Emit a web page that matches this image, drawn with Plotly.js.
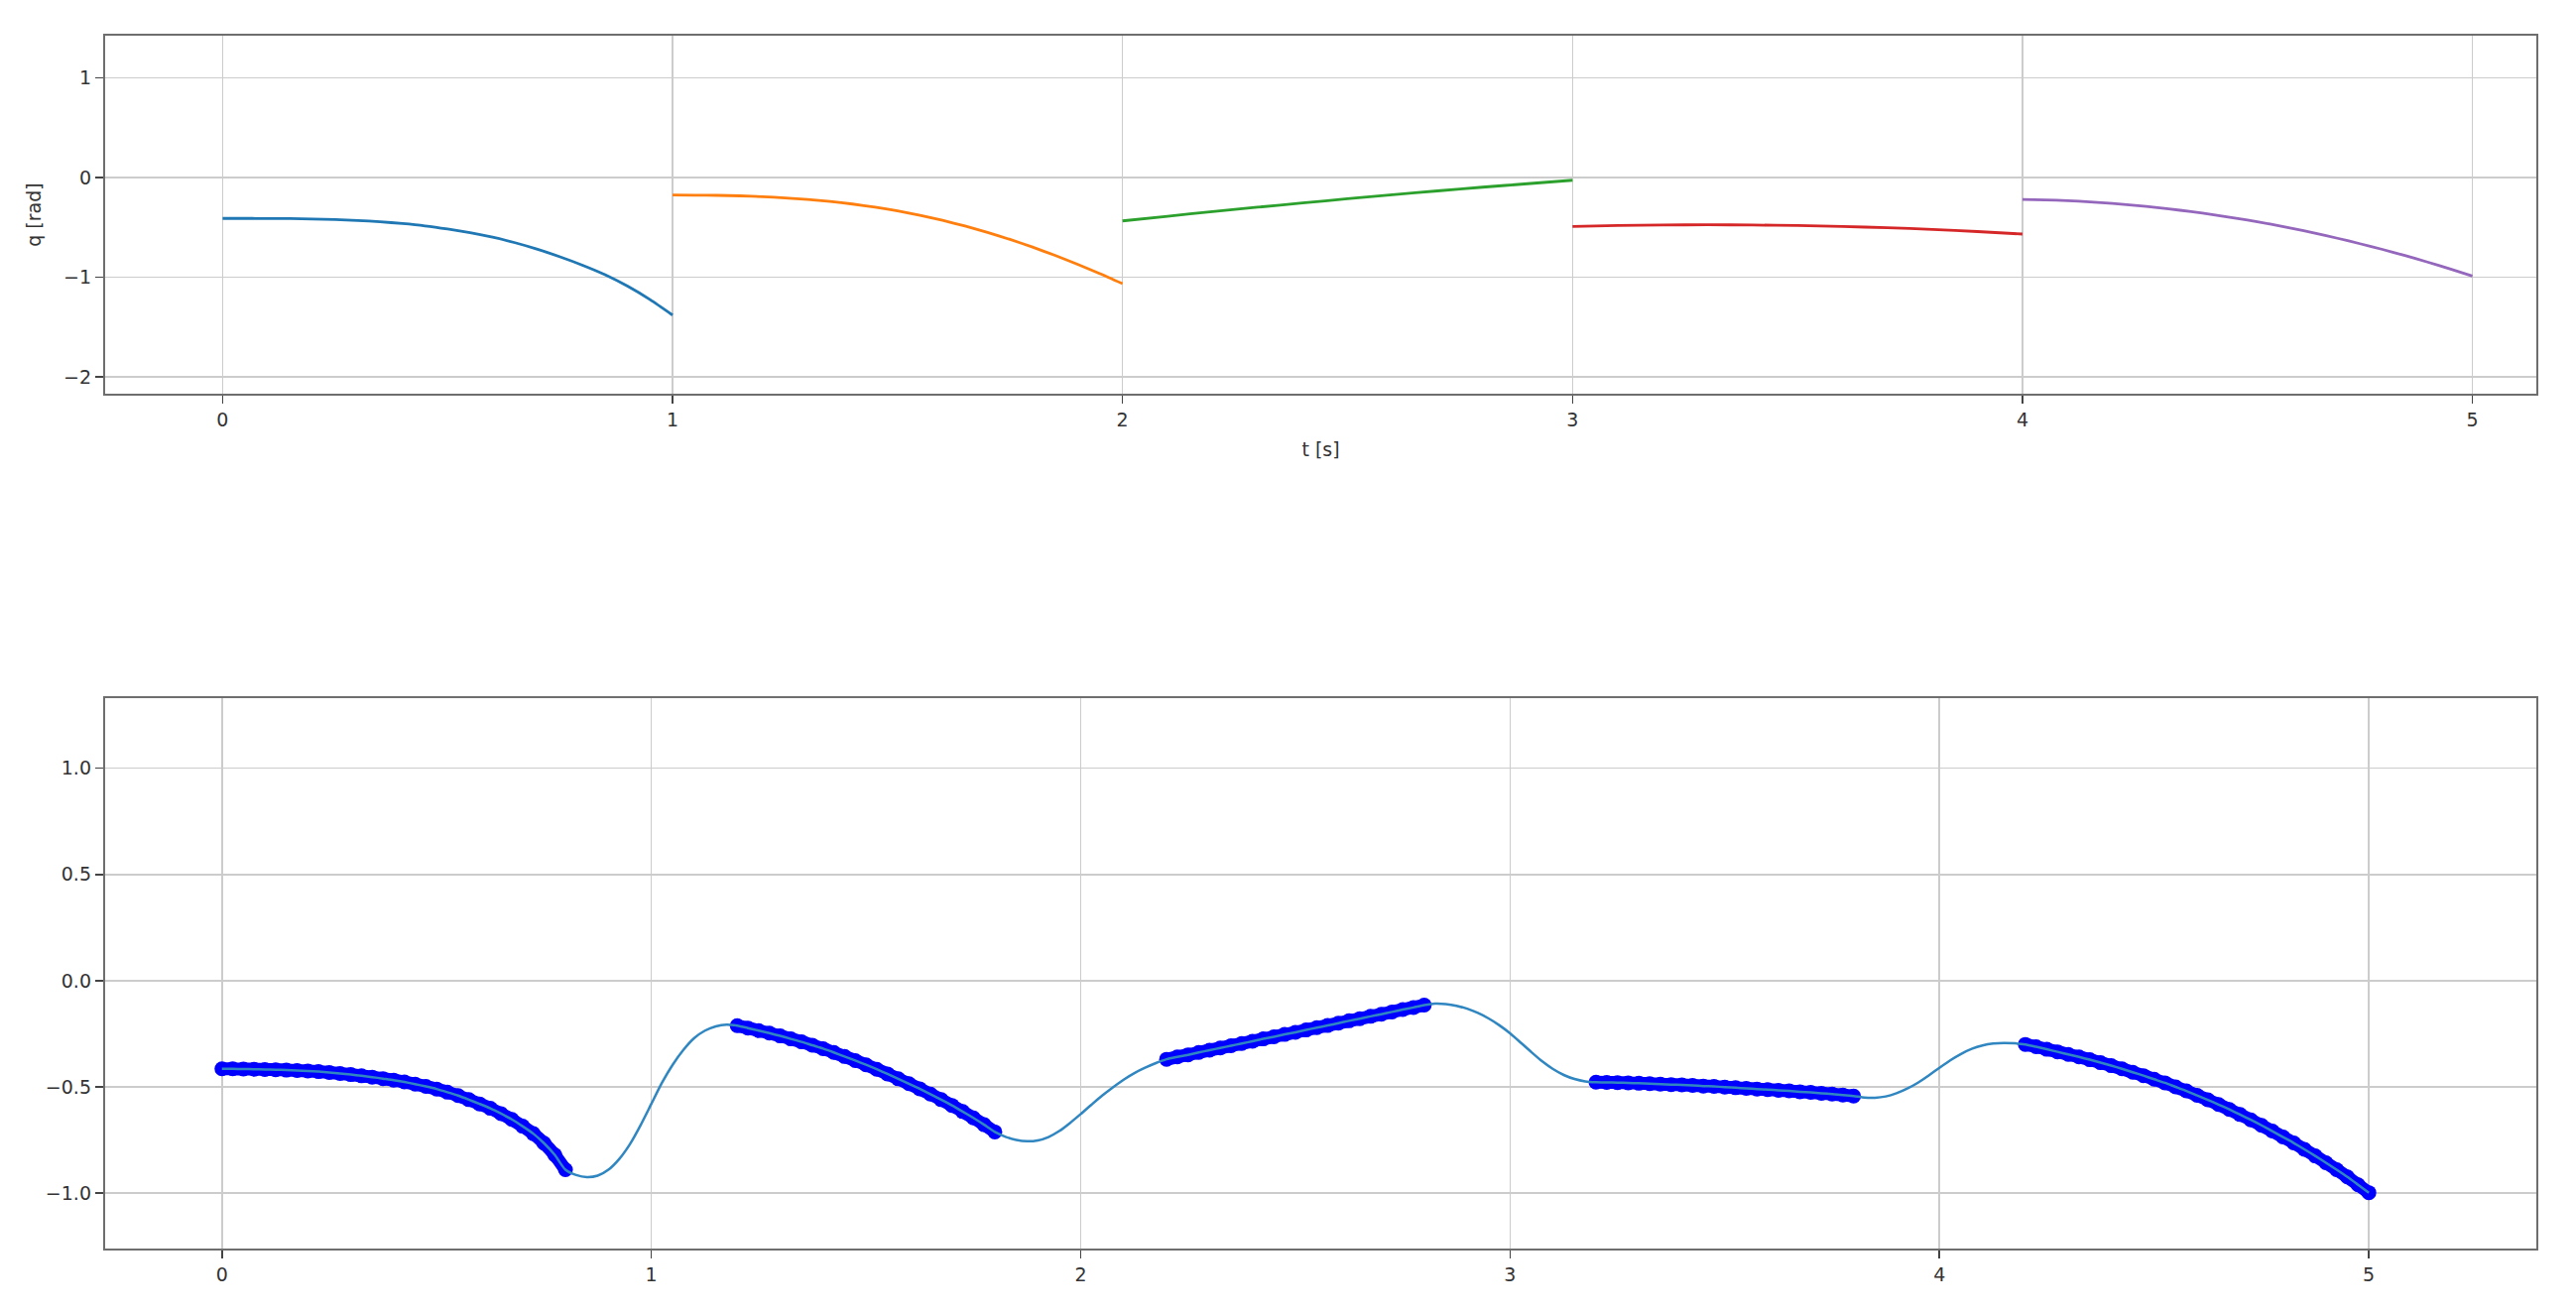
<!DOCTYPE html>
<html>
<head>
<meta charset="utf-8">
<script src="https://cdn.plot.ly/plotly-3.0.1.min.js"></script>
<style>
  html, body { margin: 0; padding: 0; background: #ffffff; }
  #plot { width: 2597px; height: 1324px; }
</style>
</head>
<body>
<div id="plot"></div>
<script>
// ---- top panel: one curve per interval ----
const tA = [0, 0.05, 0.1, 0.15, 0.2, 0.25, 0.3, 0.35, 0.4, 0.45, 0.5, 0.55, 0.6, 0.65, 0.7, 0.75, 0.8, 0.85, 0.9, 0.95, 1.0];
const qA = [-0.410, -0.410, -0.411, -0.412, -0.416, -0.421, -0.431, -0.444, -0.462, -0.485, -0.516, -0.553, -0.599, -0.654, -0.720, -0.796, -0.880, -0.975, -1.090, -1.225, -1.380];

const tB = [1.0, 1.05, 1.1, 1.15, 1.2, 1.25, 1.3, 1.35, 1.4, 1.45, 1.5, 1.55, 1.6, 1.65, 1.7, 1.75, 1.8, 1.85, 1.9, 1.95, 2.0];
const qB = [-0.176, -0.177, -0.179, -0.184, -0.192, -0.204, -0.220, -0.240, -0.266, -0.297, -0.335, -0.380, -0.430, -0.487, -0.551, -0.621, -0.698, -0.781, -0.870, -0.965, -1.065];

const tC = [2.0, 2.1, 2.2, 2.3, 2.4, 2.5, 2.6, 2.7, 2.8, 2.9, 3.0];
const qC = [-0.435, -0.388, -0.342, -0.298, -0.255, -0.213, -0.173, -0.134, -0.097, -0.062, -0.027];

const tD = [3.0, 3.1, 3.2, 3.3, 3.4, 3.5, 3.6, 3.7, 3.8, 3.9, 4.0];
const qD = [-0.491, -0.482, -0.476, -0.474, -0.476, -0.482, -0.491, -0.504, -0.520, -0.542, -0.567];

const tE = [4.0, 4.05, 4.1, 4.15, 4.2, 4.25, 4.3, 4.35, 4.4, 4.45, 4.5, 4.55, 4.6, 4.65, 4.7, 4.75, 4.8, 4.85, 4.9, 4.95, 5.0];
const qE = [-0.219, -0.224, -0.232, -0.244, -0.260, -0.279, -0.302, -0.328, -0.357, -0.391, -0.427, -0.467, -0.511, -0.558, -0.609, -0.664, -0.721, -0.783, -0.848, -0.916, -0.988];

const topColors = ["#1f77b4", "#ff7f0e", "#2ca02c", "#d62728", "#9467bd"];

// ---- bottom panel: sampled pieces (markers) ----
const m1T = [0, 0.025, 0.05, 0.075, 0.1, 0.125, 0.15, 0.175, 0.2, 0.225, 0.25, 0.275, 0.3, 0.325, 0.35, 0.375, 0.4, 0.425, 0.45, 0.475, 0.5, 0.525, 0.55, 0.575, 0.6, 0.625, 0.65, 0.675, 0.7, 0.725, 0.75, 0.775, 0.8];
const m1Q = [-0.415, -0.415, -0.416, -0.417, -0.418, -0.419, -0.421, -0.423, -0.425, -0.428, -0.432, -0.437, -0.442, -0.448, -0.454, -0.461, -0.468, -0.477, -0.487, -0.498, -0.510, -0.525, -0.541, -0.560, -0.580, -0.601, -0.626, -0.653, -0.685, -0.720, -0.765, -0.820, -0.890];

const m2T = [1.2, 1.225, 1.25, 1.275, 1.3, 1.325, 1.35, 1.375, 1.4, 1.425, 1.45, 1.475, 1.5, 1.525, 1.55, 1.575, 1.6, 1.625, 1.65, 1.675, 1.7, 1.725, 1.75, 1.775, 1.8];
const m2Q = [-0.212, -0.223, -0.235, -0.247, -0.260, -0.274, -0.288, -0.304, -0.320, -0.338, -0.357, -0.376, -0.396, -0.417, -0.439, -0.462, -0.485, -0.509, -0.534, -0.560, -0.587, -0.616, -0.646, -0.678, -0.712];

const m3T = [2.2, 2.225, 2.25, 2.275, 2.3, 2.325, 2.35, 2.375, 2.4, 2.425, 2.45, 2.475, 2.5, 2.525, 2.55, 2.575, 2.6, 2.625, 2.65, 2.675, 2.7, 2.725, 2.75, 2.775, 2.8];
const m3Q = [-0.370, -0.359, -0.349, -0.338, -0.327, -0.317, -0.306, -0.296, -0.285, -0.274, -0.264, -0.253, -0.243, -0.232, -0.221, -0.211, -0.200, -0.189, -0.179, -0.168, -0.158, -0.147, -0.136, -0.126, -0.115];

const m4T = [3.2, 3.225, 3.25, 3.275, 3.3, 3.325, 3.35, 3.375, 3.4, 3.425, 3.45, 3.475, 3.5, 3.525, 3.55, 3.575, 3.6, 3.625, 3.65, 3.675, 3.7, 3.725, 3.75, 3.775, 3.8];
const m4Q = [-0.478, -0.479, -0.480, -0.481, -0.483, -0.485, -0.487, -0.489, -0.491, -0.493, -0.496, -0.498, -0.501, -0.504, -0.507, -0.510, -0.513, -0.516, -0.519, -0.523, -0.526, -0.530, -0.534, -0.538, -0.543];

const m5T = [4.2, 4.225, 4.25, 4.275, 4.3, 4.325, 4.35, 4.375, 4.4, 4.425, 4.45, 4.475, 4.5, 4.525, 4.55, 4.575, 4.6, 4.625, 4.65, 4.675, 4.7, 4.725, 4.75, 4.775, 4.8, 4.825, 4.85, 4.875, 4.9, 4.925, 4.95, 4.975, 5.0];
const m5Q = [-0.300, -0.311, -0.323, -0.335, -0.347, -0.359, -0.372, -0.386, -0.400, -0.415, -0.431, -0.447, -0.464, -0.481, -0.500, -0.519, -0.540, -0.561, -0.583, -0.606, -0.630, -0.655, -0.681, -0.708, -0.736, -0.764, -0.794, -0.825, -0.857, -0.890, -0.924, -0.961, -0.998];

// ---- bottom panel: joining curve between pieces ----
const g1T = [0.825, 0.85, 0.875, 0.9, 0.925, 0.95, 0.975, 1.0, 1.025, 1.05, 1.075, 1.1, 1.125, 1.15, 1.175];
const g1Q = [-0.915, -0.925, -0.918, -0.890, -0.840, -0.770, -0.680, -0.580, -0.480, -0.395, -0.325, -0.270, -0.235, -0.215, -0.207];

const g2T = [1.825, 1.85, 1.875, 1.9, 1.925, 1.95, 1.975, 2.0, 2.025, 2.05, 2.075, 2.1, 2.125, 2.15, 2.175];
const g2Q = [-0.735, -0.750, -0.756, -0.752, -0.736, -0.708, -0.670, -0.628, -0.584, -0.541, -0.502, -0.466, -0.435, -0.410, -0.388];

const g3T = [2.825, 2.85, 2.875, 2.9, 2.925, 2.95, 2.975, 3.0, 3.025, 3.05, 3.075, 3.1, 3.125, 3.15, 3.175];
const g3Q = [-0.108, -0.110, -0.118, -0.132, -0.152, -0.178, -0.210, -0.248, -0.292, -0.337, -0.380, -0.416, -0.444, -0.463, -0.474];

const g4T = [3.825, 3.85, 3.875, 3.9, 3.925, 3.95, 3.975, 4.0, 4.025, 4.05, 4.075, 4.1, 4.125, 4.15, 4.175];
const g4Q = [-0.550, -0.551, -0.545, -0.530, -0.508, -0.480, -0.446, -0.410, -0.375, -0.345, -0.321, -0.305, -0.296, -0.293, -0.295];

// ---- ticks ----
const xTicks = [0, 1, 2, 3, 4, 5];
const xTickText = ["0", "1", "2", "3", "4", "5"];
const yTopTicks = [-2, -1, 0, 1];
const yTopTickText = ["\u22122", "\u22121", "0", "1"];
const yBotTicks = [-1.0, -0.5, 0.0, 0.5, 1.0];
const yBotTickText = ["\u22121.0", "\u22120.5", "0.0", "0.5", "1.0"];

const FONT = "DejaVu Sans, sans-serif";

function main() {
  const traces = [];

  const topT = [tA, tB, tC, tD, tE];
  const topQ = [qA, qB, qC, qD, qE];
  topT.forEach((t, i) => {
    traces.push({
      type: "scatter", mode: "lines", x: t, y: topQ[i],
      xaxis: "x", yaxis: "y",
      line: { color: topColors[i], width: 2.8, shape: "spline", smoothing: 0.6 },
      showlegend: false, hoverinfo: "skip"
    });
  });

  // sampled pieces: dense markers form a thick band; line drawn on top
  const mT = [].concat(m1T, [null], m2T, [null], m3T, [null], m4T, [null], m5T);
  const mQ = [].concat(m1Q, [null], m2Q, [null], m3Q, [null], m4Q, [null], m5Q);
  traces.push({
    type: "scatter", mode: "lines+markers", x: mT, y: mQ,
    xaxis: "x2", yaxis: "y2",
    line: { color: "#0000ff", width: 13, shape: "spline", smoothing: 0.6 },
    marker: { color: "#0000ff", size: 15, line: { width: 0 } },
    connectgaps: false,
    showlegend: false, hoverinfo: "skip"
  });

  const lineT = [].concat(m1T, g1T, m2T, g2T, m3T, g3T, m4T, g4T, m5T);
  const lineQ = [].concat(m1Q, g1Q, m2Q, g2Q, m3Q, g3Q, m4Q, g4Q, m5Q);
  traces.push({
    type: "scatter", mode: "lines", x: lineT, y: lineQ,
    xaxis: "x2", yaxis: "y2",
    line: { color: "#2f86c0", width: 2.5, shape: "spline", smoothing: 0.6 },
    showlegend: false, hoverinfo: "skip"
  });

  const axisBase = {
    showgrid: true, gridcolor: "#cccccc", gridwidth: 1.6,
    zeroline: false,
    showline: true, mirror: true, linecolor: "#6e6e6e", linewidth: 2.2,
    ticks: "outside", ticklen: 8, tickwidth: 1.6, tickcolor: "#444",
    tickfont: { family: FONT, size: 19, color: "#333" },
    tickmode: "array", fixedrange: true
  };

  const layout = {
    width: 2597, height: 1324,
    paper_bgcolor: "#ffffff", plot_bgcolor: "#ffffff",
    margin: { l: 106, r: 40, t: 36, b: 65 },
    showlegend: false,
    xaxis: Object.assign({}, axisBase, {
      anchor: "y", domain: [0, 1], range: [-0.261, 5.142],
      tickvals: xTicks, ticktext: xTickText,
      title: { text: "t [s]", font: { family: FONT, size: 19, color: "#333" }, standoff: 14 }
    }),
    yaxis: Object.assign({}, axisBase, {
      anchor: "x", domain: [0.7048, 1], range: [-2.169, 1.423],
      tickvals: yTopTicks, ticktext: yTopTickText,
      title: { text: "q [rad]", font: { family: FONT, size: 19, color: "#333" }, standoff: 17 }
    }),
    xaxis2: Object.assign({}, axisBase, {
      anchor: "y2", domain: [0, 1], range: [-0.272, 5.39],
      tickvals: xTicks, ticktext: xTickText
    }),
    yaxis2: Object.assign({}, axisBase, {
      anchor: "x2", domain: [0, 0.4538], range: [-1.261, 1.33],
      tickvals: yBotTicks, ticktext: yBotTickText
    })
  };

  Plotly.newPlot("plot", traces, layout, { displayModeBar: false, staticPlot: true });
}

main();
</script>
</body>
</html>
